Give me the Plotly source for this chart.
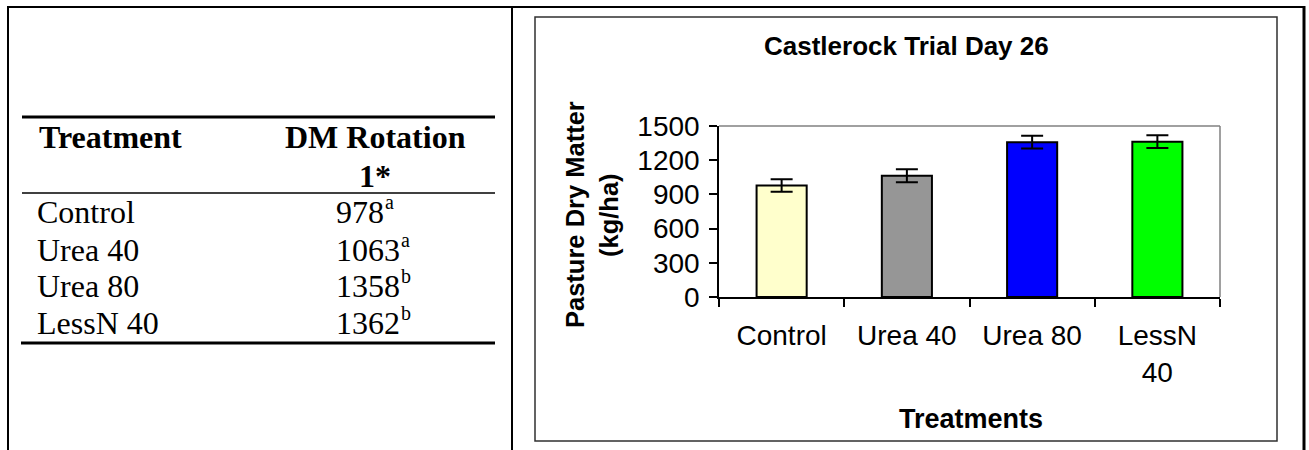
import plotly.graph_objects as go

# ---------------- data ----------------
categories = ["Control", "Urea 40", "Urea 80", "LessN 40"]
tick_labels = ["Control", "Urea 40", "Urea 80", "LessN<br>40"]
dm_values = [978, 1063, 1358, 1362]
sig_letters = ["a", "a", "b", "b"]
error_values = [55, 57, 56, 56]
bar_colors = ["#FFFFCC", "#969696", "#0000FF", "#00FF00"]
y_ticks = [0, 300, 600, 900, 1200, 1500]

chart_title = "Castlerock Trial Day 26"
y_title_lines = ["Pasture Dry Matter", "(kg/ha)"]
x_title = "Treatments"
table_headers = ["Treatment", "DM Rotation", "1*"]

# ---------------- layout helpers ----------------
W, H = 1309, 450


def px(x):
    return x / W


def py(y):
    return 1 - y / H


SERIF = "Times New Roman, Liberation Serif, serif"
SANS = "Arial, Liberation Sans, sans-serif"

fig = go.Figure(
    go.Bar(
        x=categories,
        y=dm_values,
        width=0.4,
        marker=dict(color=bar_colors, line=dict(color="black", width=2)),
        error_y=dict(type="data", array=error_values, color="black",
                     thickness=2, width=11),
        hoverinfo="x+y",
    )
)

shapes = []


def line(x0, y0, x1, y1, w=2, color="black"):
    shapes.append(dict(type="line", xref="paper", yref="paper",
                       x0=px(x0), y0=py(y0), x1=px(x1), y1=py(y1),
                       line=dict(color=color, width=w)))


# outer page frame
line(7, 7, 1305, 7, 2)
line(8, 6, 8, 450, 2)
line(512, 7, 512, 450, 2)
line(1304, 6, 1304, 450, 3)
# chart box
shapes.append(dict(type="rect", xref="paper", yref="paper",
                   x0=px(535), y0=py(441), x1=px(1277), y1=py(17),
                   line=dict(color="#303030", width=1.5)))
# plot area frame (gray top/right)
line(719, 126, 1220, 126, 1.5, "#808080")
line(1220, 126, 1220, 297, 1.5, "#808080")
# table rules
line(22, 117, 495, 117, 3)
line(22, 193, 495, 193, 1.5)
line(21, 343, 495, 343, 3)

annotations = []


def ann(text, x, y, size, family, bold=False, xanchor="center", yanchor="middle", angle=0):
    annotations.append(dict(
        text=f"<b>{text}</b>" if bold else text,
        xref="paper", yref="paper", x=px(x), y=py(y),
        xanchor=xanchor, yanchor=yanchor, showarrow=False, textangle=angle,
        font=dict(family=family, size=size, color="black"),
    ))


# table
TFS = 32
ann(table_headers[0], 37, 137, TFS, SERIF, bold=True, xanchor="left")
ann(table_headers[1], 375, 137, TFS, SERIF, bold=True)
ann(table_headers[2], 375, 176, TFS, SERIF, bold=True)
row_y = [212, 250, 286, 323]
for name, v, l, yy in zip(categories, dm_values, sig_letters, row_y):
    ann(name, 35, yy, TFS, SERIF, xanchor="left")
    num = str(v)
    ann(num, 334, yy, TFS, SERIF, xanchor="left")
    # superscript significance letter just after the number
    ann(l, 334 + len(num) * 0.5 * TFS + 1, yy - 10, 20, SERIF, xanchor="left")

# chart texts
ann(chart_title, 906, 46, 26, SANS, bold=True)
ann(y_title_lines[0], 575, 215, 25.5, SANS, bold=True, angle=-90)
ann(y_title_lines[1], 609, 215, 25.5, SANS, bold=True, angle=-90)
ann(x_title, 971, 419, 27, SANS, bold=True)

fig.update_layout(
    width=W, height=H,
    margin=dict(l=0, r=0, t=0, b=0),
    paper_bgcolor="white", plot_bgcolor="white",
    showlegend=False,
    shapes=shapes, annotations=annotations,
    font=dict(family=SANS, size=28, color="black"),
    xaxis=dict(
        domain=[px(719), px(1220)],
        type="category",
        tickmode="array", tickvals=categories, ticktext=tick_labels,
        tickson="boundaries",
        ticks="outside", ticklen=8, tickcolor="black", tickwidth=1.5,
        ticklabelstandoff=13,
        showline=True, linecolor="black", linewidth=1.5,
        showgrid=False, zeroline=False,
        tickfont=dict(family=SANS, size=28, color="black"),
        automargin=False,
    ),
    yaxis=dict(
        domain=[py(297), py(126)],
        range=[0, 1500],
        tickmode="array", tickvals=y_ticks,
        ticks="outside", ticklen=8, tickcolor="black", tickwidth=1.5,
        ticklabelstandoff=4,
        showline=True, linecolor="black", linewidth=1.5,
        showgrid=False, zeroline=False,
        tickfont=dict(family=SANS, size=28, color="black"),
        automargin=False,
    ),
)

fig.write_html(
    "out.html",
    config={"displayModeBar": False},
    post_script="document.body.style.margin='0';document.body.style.overflow='hidden';",
)
